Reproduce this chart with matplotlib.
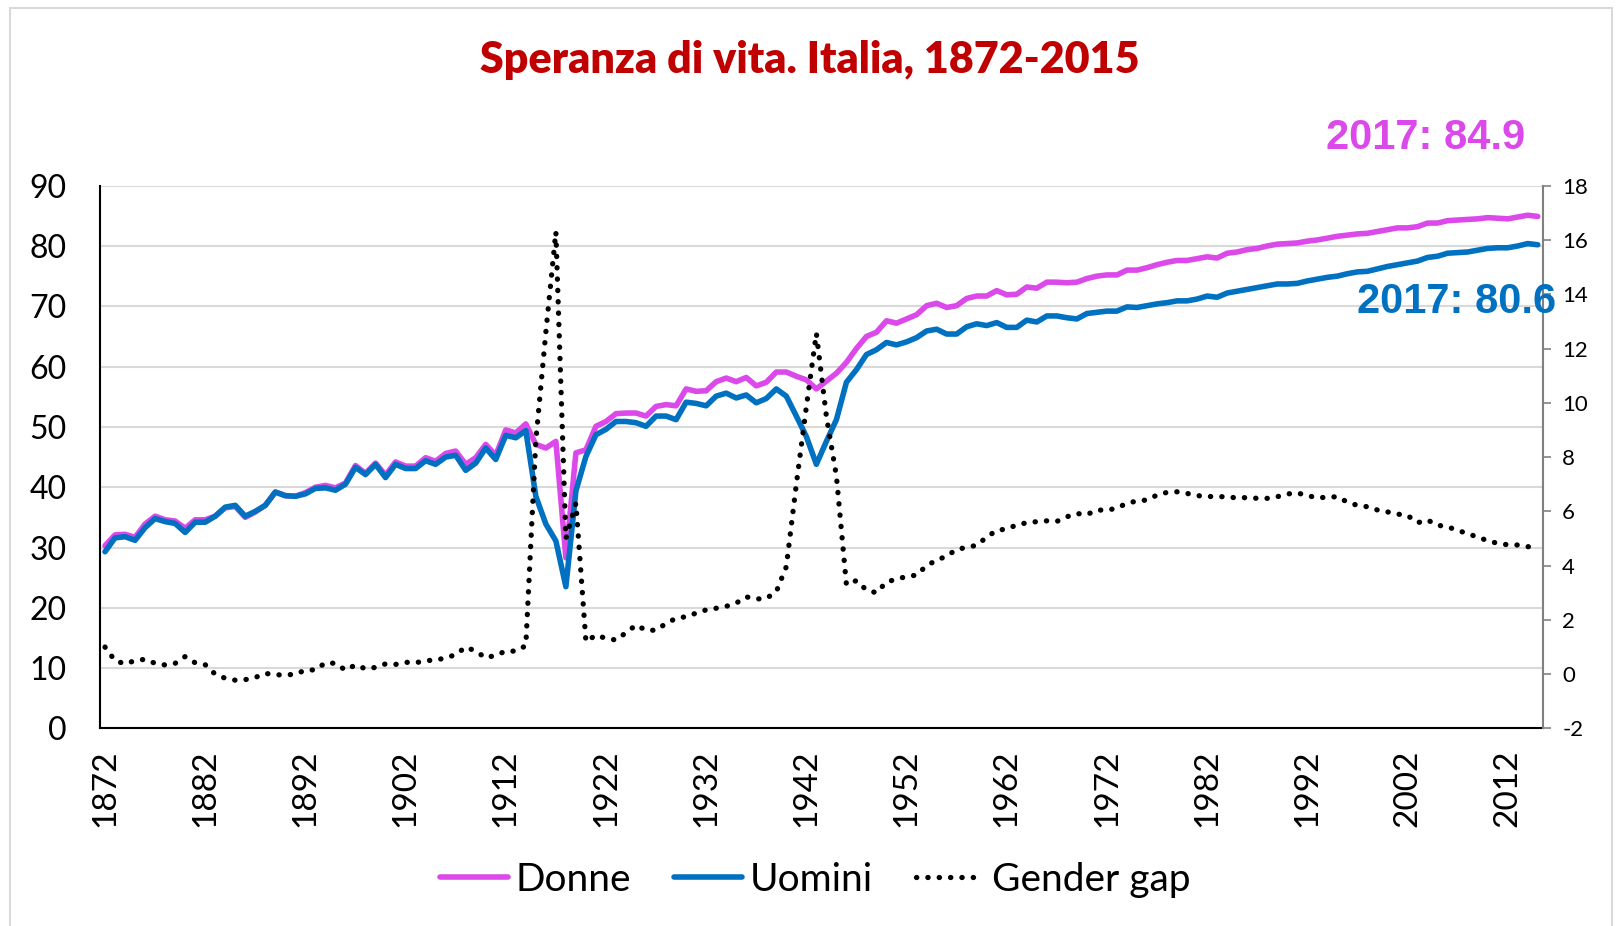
import numpy as np
import matplotlib
matplotlib.use("Agg")
import matplotlib.pyplot as plt
from matplotlib.patches import Rectangle

# Life expectancy at birth, Italy 1872-2015
years = np.arange(1872, 2016)

donne = [30.3, 32.1, 32.2, 31.7, 33.9, 35.2, 34.6, 34.4, 33.2, 34.6,
         34.6, 35.2, 36.6, 36.8, 35.0, 35.9, 37.0, 39.2, 38.6, 38.5,
         39.1, 40.0, 40.3, 39.9, 40.7, 43.6, 42.3, 44.0, 42.0, 44.2,
         43.5, 43.5, 44.9, 44.3, 45.6, 46.0, 43.8, 44.9, 47.1, 45.3,
         49.5, 49.0, 50.5, 47.1, 46.5, 47.6, 28.3, 45.7, 46.2, 50.1,
         50.9, 52.2, 52.3, 52.3, 51.8, 53.4, 53.7, 53.5, 56.3, 55.9,
         56.0, 57.5, 58.1, 57.5, 58.2, 56.8, 57.4, 59.1, 59.1, 58.4,
         57.8, 56.3, 57.6, 58.9, 60.7, 63.0, 65.0, 65.7, 67.6, 67.2,
         67.9, 68.6, 70.1, 70.5, 69.8, 70.1, 71.3, 71.7, 71.7, 72.6,
         71.9, 72.0, 73.2, 73.0, 74.0, 74.0, 73.9, 74.0, 74.6, 75.0,
         75.2, 75.2, 76.0, 76.0, 76.4, 76.9, 77.3, 77.6, 77.6, 77.9,
         78.2, 78.0, 78.8, 79.0, 79.4, 79.6, 80.0, 80.3, 80.4, 80.5,
         80.8, 81.0, 81.3, 81.6, 81.8, 82.0, 82.1, 82.4, 82.7, 83.0,
         83.0, 83.2, 83.8, 83.8, 84.2, 84.3, 84.4, 84.5, 84.7, 84.6,
         84.5, 84.8, 85.1, 84.9]

uomini = [29.3, 31.6, 31.8, 31.2, 33.3, 34.8, 34.3, 34.0, 32.5, 34.2,
          34.2, 35.2, 36.7, 37.0, 35.2, 36.0, 37.0, 39.2, 38.6, 38.5,
          38.9, 39.8, 39.9, 39.5, 40.5, 43.3, 42.1, 43.8, 41.6, 43.8,
          43.1, 43.1, 44.4, 43.8, 45.0, 45.3, 42.8, 44.0, 46.5, 44.6,
          48.6, 48.2, 49.4, 38.5, 33.9, 31.1, 23.5, 39.4, 45.1, 48.7,
          49.6, 50.9, 50.9, 50.7, 50.1, 51.8, 51.8, 51.2, 54.1, 53.9,
          53.5, 55.1, 55.6, 54.8, 55.3, 54.0, 54.7, 56.3, 55.1, 51.8,
          48.4, 43.8, 47.6, 51.2, 57.4, 59.5, 62.0, 62.8, 64.0, 63.6,
          64.1, 64.8, 65.9, 66.2, 65.4, 65.4, 66.6, 67.1, 66.8, 67.3,
          66.5, 66.5, 67.7, 67.4, 68.4, 68.4, 68.1, 67.9, 68.8, 69.0,
          69.2, 69.2, 69.9, 69.8, 70.1, 70.4, 70.6, 70.9, 70.9, 71.2,
          71.7, 71.5, 72.2, 72.5, 72.8, 73.1, 73.4, 73.7, 73.7, 73.8,
          74.2, 74.5, 74.8, 75.0, 75.4, 75.7, 75.8, 76.2, 76.6, 76.9,
          77.2, 77.5, 78.1, 78.3, 78.8, 78.9, 79.0, 79.3, 79.6, 79.7,
          79.7, 80.0, 80.4, 80.2]

gender_gap = [1.0, 0.5, 0.38, 0.5, 0.55, 0.4, 0.34, 0.4, 0.65, 0.42,
              0.35, 0.0, -0.15, -0.22, -0.2, -0.12, 0.03, -0.02, -0.03, 0.0,
              0.15, 0.16, 0.42, 0.4, 0.15, 0.34, 0.2, 0.25, 0.38, 0.36,
              0.44, 0.42, 0.5, 0.52, 0.6, 0.72, 1.0, 0.85, 0.6, 0.7,
              0.85, 0.85, 1.05, 8.6, 12.6, 16.3, 5.0, 6.3, 1.2, 1.44,
              1.32, 1.26, 1.53, 1.81, 1.62, 1.62, 1.87, 2.06, 2.12, 2.25,
              2.37, 2.43, 2.5, 2.62, 2.85, 2.77, 2.79, 3.04, 3.96, 7.0,
              9.85, 12.56, 9.5, 7.3, 3.3, 3.45, 3.1, 3.0, 3.4, 3.5,
              3.6, 3.65, 4.0, 4.2, 4.35, 4.6, 4.67, 4.75, 5.05, 5.3,
              5.35, 5.5, 5.58, 5.62, 5.65, 5.63, 5.8, 5.92, 5.88, 6.05,
              6.04, 6.12, 6.3, 6.38, 6.42, 6.6, 6.7, 6.72, 6.66, 6.58,
              6.55, 6.54, 6.54, 6.49, 6.51, 6.48, 6.48, 6.54, 6.64, 6.68,
              6.58, 6.5, 6.52, 6.54, 6.34, 6.22, 6.17, 6.05, 5.98, 5.9,
              5.85, 5.58, 5.68, 5.49, 5.43, 5.3, 5.18, 5.05, 4.92, 4.82,
              4.77, 4.76, 4.7, 4.65]

xtick_years = list(range(1872, 2016, 10))
left_ticks = list(range(0, 91, 10))
right_ticks = list(range(-2, 19, 2))

label_donne = "2017: 84.9"
label_uomini = "2017: 80.6"

PINK = "#DB49EA"
BLUE = "#0070C0"
RED = "#C00000"
GRID = "#D9D9D9"

plt.rcParams['font.family'] = ['Lato', 'DejaVu Sans']

fig = plt.figure(figsize=(16.18, 9.26), dpi=100)
ax = fig.add_axes([0.0618, 0.2133, 0.9535 - 0.0618, 0.7995 - 0.2133])
ax2 = ax.twinx()

l1, = ax.plot(years, donne, color=PINK, lw=4.0, solid_capstyle='round', solid_joinstyle='round')
l2, = ax.plot(years, uomini, color=BLUE, lw=4.0, solid_capstyle='round', solid_joinstyle='round')
l3, = ax2.plot(years, gender_gap, color='black', lw=3.8, linestyle=(0, (0.05, 2.1)),
               dash_capstyle='round')

ax.set_xlim(1871.5, 2015.5)
ax.set_ylim(0, 90)
ax2.set_ylim(-2, 18)

ax.set_yticks(left_ticks)
ax.set_yticklabels([str(v) for v in left_ticks], fontsize=23)
ax.tick_params(axis='y', length=0, pad=24)
ax.yaxis.grid(True, color=GRID, lw=1.5)
ax.set_axisbelow(True)

ax.set_xticks(xtick_years)
ax.set_xticklabels([str(y) for y in xtick_years], rotation=90, fontsize=24)
ax.tick_params(axis='x', length=0, pad=15)

ax2.set_yticks(right_ticks)
ax2.set_yticklabels([str(v) for v in right_ticks], fontsize=16)
ax2.tick_params(axis='y', length=6, width=1.2, color='#808080', pad=8)

for a in (ax, ax2):
    a.spines['top'].set_visible(False)
ax.spines['right'].set_visible(False)
ax2.spines['left'].set_visible(False)
ax2.spines['bottom'].set_visible(False)
ax.spines['left'].set_color('black')
ax.spines['left'].set_linewidth(1.5)
ax.spines['bottom'].set_color('black')
ax.spines['bottom'].set_linewidth(1.5)
ax2.spines['right'].set_color('#808080')
ax2.spines['right'].set_linewidth(1.5)

fig.text(0.5006, 1 - 60 / 926, "Speranza di vita. Italia, 1872-2015", ha='center', va='center',
         fontsize=31, fontweight='heavy', color=RED)

fig.text(1525 / 1618, 1 - 138 / 926, label_donne, ha='right', va='center', fontsize=30,
         fontweight='bold', color=PINK, family=['Liberation Sans', 'DejaVu Sans'])
fig.text(1556 / 1618, 1 - 302 / 926, label_uomini, ha='right', va='center', fontsize=30,
         fontweight='bold', color=BLUE, family=['Liberation Sans', 'DejaVu Sans'])

fig.legend([l1, l2, l3], ["Donne", "Uomini", "Gender gap"], loc='center',
           bbox_to_anchor=(815 / 1618, 1 - 880 / 926), ncol=3, frameon=False,
           fontsize=28, handlelength=1.75, columnspacing=1.1, handletextpad=0.2)

fig.patches.append(Rectangle((10 / 1618, -0.01), 1602 / 1618, 1.01 - 8 / 926, transform=fig.transFigure,
                             fill=False, edgecolor=GRID, lw=1.5))

fig.savefig("out.png", dpi=100)
